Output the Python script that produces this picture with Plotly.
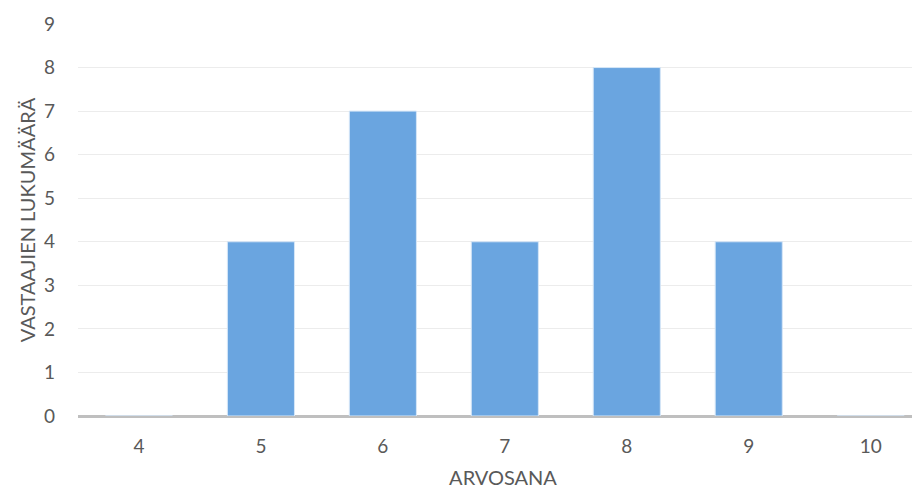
import plotly.graph_objects as go

categories = ["4", "5", "6", "7", "8", "9", "10"]
counts = [0, 4, 7, 4, 8, 4, 0]

fig = go.Figure()
fig.add_trace(go.Bar(
    x=categories, y=counts,
    marker=dict(color="#6aa5e0", line=dict(color="#d6e6f7", width=1)),
))

fig.update_layout(
    width=920, height=494,
    margin=dict(l=70, r=0, t=16, b=86),
    paper_bgcolor="white", plot_bgcolor="white",
    bargap=0.45,
    showlegend=False,
    font=dict(family="Lato, 'Open Sans', sans-serif", color="#595959", size=19),
    xaxis=dict(
        type="category",
        range=[-0.5, 6.47],
        automargin=False,
        showgrid=False,
        showline=False,
        ticks="", ticklabelstandoff=17,
        tickfont=dict(size=19, color="#595959"),
        title=dict(text="ARVOSANA", font=dict(size=20, color="#595959"), standoff=14),
    ),
    yaxis=dict(
        range=[0, 9],
        dtick=1,
        automargin=False,
        layer="above traces",
        showgrid=True, gridcolor="#ececec", gridwidth=1,
        zeroline=True, zerolinecolor="#bfbfbf", zerolinewidth=3,
        ticks="", ticklabelstandoff=22,
        tickfont=dict(size=19, color="#595959"),
        title=dict(text="VASTAAJIEN LUKUMÄÄRÄ", font=dict(size=20, color="#595959"), standoff=2),
    ),
)

fig.write_html("out.html")
